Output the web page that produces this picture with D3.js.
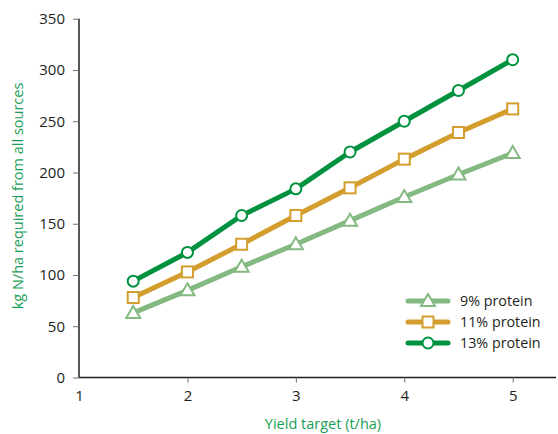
<!DOCTYPE html>
<html><head><meta charset="utf-8">
<script src="https://cdn.jsdelivr.net/npm/d3@7"></script>
<style>body{margin:0;background:#fff}text{font-family:"Open Sans","Noto Sans",sans-serif}</style>
</head><body><svg id="c" width="558" height="434"></svg>
<script>
const xValues = [1.5, 2, 2.5, 3, 3.5, 4, 4.5, 5];
const protein9 = [63, 85, 108, 130, 153, 176, 198, 219];
const protein11 = [78, 103, 130, 158, 185, 213, 239, 262];
const protein13 = [94, 122, 158, 184, 220, 250, 280, 310];
const seriesNames = ["9% protein", "11% protein", "13% protein"];
const xTicks = [1, 2, 3, 4, 5];
const yTicks = [0, 50, 100, 150, 200, 250, 300, 350];

const series = [
  {name: seriesNames[0], values: protein9, color: "#84b981", shape: "triangle"},
  {name: seriesNames[1], values: protein11, color: "#d39e2e", shape: "square"},
  {name: seriesNames[2], values: protein13, color: "#00923f", shape: "circle"}
];

const svg = d3.select("#c");
const x = d3.scaleLinear().domain([1, 5]).range([79, 512.7]);
const y = d3.scaleLinear().domain([0, 350]).range([377.5, 18.7]);

const xAxis = svg.append("g").attr("transform", "translate(0,377.5)")
  .call(d3.axisBottom(x).tickValues(xTicks).tickSize(5).tickPadding(8).tickFormat(d3.format("d")));
xAxis.select(".domain").attr("d", "M79,0H556").attr("stroke", "#231f20").attr("stroke-width", 1.5);
const yAxis = svg.append("g").attr("transform", "translate(79,0)")
  .call(d3.axisLeft(y).tickValues(yTicks).tickSize(6).tickPadding(8));
yAxis.select(".domain").attr("d", "M0,18.7V377.5").attr("stroke", "#231f20").attr("stroke-width", 1.5);
svg.selectAll(".tick line").attr("stroke", "#6d6e70");
svg.selectAll(".tick text").attr("font-size", 15).attr("fill", "#231f20").attr("font-family", "'Open Sans','Noto Sans',sans-serif");
xAxis.select(".tick line").attr("stroke", "none");

svg.append("text").attr("x", 323).attr("y", 429).attr("text-anchor", "middle")
  .attr("font-size", 14.5).attr("fill", "#1a9e55").text("Yield target (t/ha)");
svg.append("text").attr("transform", "translate(23,196) rotate(-90)").attr("text-anchor", "middle")
  .attr("font-size", 14.5).attr("fill", "#1a9e55").text("kg N/ha required from all sources");

function marker(g, shape, color, cx, cy) {
  if (shape === "circle") {
    g.append("circle").attr("cx", cx).attr("cy", cy).attr("r", 5.5)
      .attr("fill", "#fff").attr("stroke", color).attr("stroke-width", 2);
  } else if (shape === "square") {
    g.append("rect").attr("x", cx - 5.5).attr("y", cy - 5.5).attr("width", 11).attr("height", 11)
      .attr("fill", "#fff").attr("stroke", color).attr("stroke-width", 2);
  } else {
    g.append("path").attr("d", `M${cx},${cy - 7}L${cx + 7},${cy + 5}L${cx - 7},${cy + 5}Z`)
      .attr("fill", "#fff").attr("stroke", color).attr("stroke-width", 2);
  }
}

const line = d3.line().x((d, i) => x(xValues[i])).y(d => y(d));
series.forEach(s => {
  const g = svg.append("g");
  g.append("path").attr("d", line(s.values)).attr("fill", "none")
    .attr("stroke", s.color).attr("stroke-width", 5).attr("stroke-linejoin", "round");
  s.values.forEach((v, i) => marker(g, s.shape, s.color, x(xValues[i]), y(v)));
});

const legY = [301, 322, 343];
series.forEach((s, i) => {
  const g = svg.append("g");
  g.append("line").attr("x1", 408).attr("x2", 448).attr("y1", legY[i]).attr("y2", legY[i])
    .attr("stroke", s.color).attr("stroke-width", 5).attr("stroke-linecap", "round");
  marker(g, s.shape, s.color, 428, legY[i]);
  g.append("text").attr("x", 460).attr("y", legY[i] + 5).attr("font-size", 14.3)
    .attr("fill", "#231f20").text(s.name);
});
</script></body></html>
